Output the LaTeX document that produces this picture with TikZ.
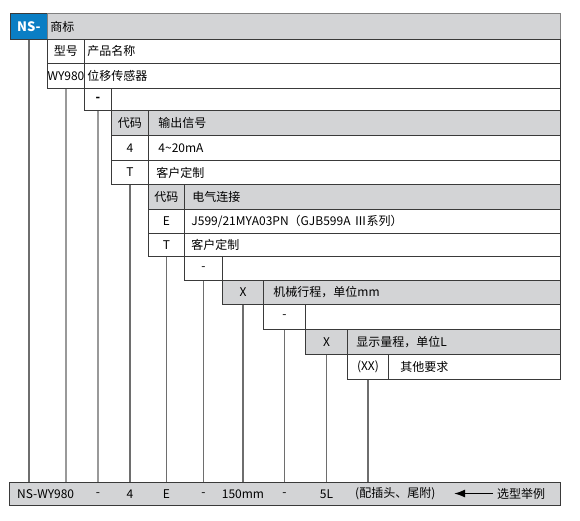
\documentclass[tikz,border=0pt]{standalone}
\usepackage{fontspec}
\setmainfont{Noto Sans CJK SC}
\usetikzlibrary{arrows.meta}
\definecolor{nsblue}{HTML}{0A7EC4}
\definecolor{rowgray}{HTML}{D3D4D6}
\definecolor{rule}{HTML}{3A3A3A}
\definecolor{stem}{HTML}{6E6E6E}
\def\rightedge{560}

\begin{document}
\begin{tikzpicture}[x=1pt, y=-1pt,
  font=\fontsize{12}{14}\selectfont,
  box/.style={draw=rule, line width=0.9pt, anchor=north west, inner xsep=0pt, inner ysep=0pt},
  head/.style={fill=rowgray},
  wide/.style 2 args={text width=\rightedge pt-#1pt-2*#2pt, inner xsep=#2pt, align=left},
  stemline/.style={draw=stem, line width=1.3pt},
  tag/.style={inner sep=0pt},
  pointer/.style={-{Latex[length=11pt,width=8pt]}, line width=1.6pt}]
\useasboundingbox (0,0) rectangle (580,520);

% brand and model
\node[box, fill=nsblue, text=white, font=\fontsize{13}{14}\selectfont\bfseries, minimum width=37, minimum height=26] (ns) at (10,13) {NS-};
\node[box, head, draw=black!50, wide={47}{3}, minimum height=26] (brand) at (47,13) {商标};
\node[box, minimum width=37, minimum height=24] (mcode) at (47,39) {型号};
\node[box, wide={84}{3}, minimum height=24] (mname) at (84,39) {产品名称};
\node[box, minimum width=37, minimum height=25] (model) at (47,63) {WY980};
\node[box, wide={84}{3}, minimum height=25] (modeln) at (84,63) {位移传感器};
\node[box, font=\fontsize{12}{14}\selectfont\bfseries, minimum width=27, minimum height=22] (dashA) at (84,88) {-};
\node[box, minimum width=449, minimum height=22] (dashAr) at (111,88) {};

% output signal
\node[box, head, minimum width=37, minimum height=25] (ocode) at (111,110) {代码};
\node[box, head, wide={148}{10}, minimum height=25] (oname) at (148,110) {输出信号};
\node[box, minimum width=37, minimum height=25] (o4) at (111,135) {4};
\node[box, wide={148}{10}, minimum height=25] (o4t) at (148,135) {4\textasciitilde{}20mA};
\node[box, minimum width=37, minimum height=24] (oT) at (111,160) {T};
\node[box, wide={148}{8}, minimum height=24] (oTt) at (148,160) {客户定制};

% electrical connection
\node[box, head, minimum width=36, minimum height=25] (ecode) at (148,184) {代码};
\node[box, head, wide={184}{8}, minimum height=25] (ename) at (184,184) {电气连接};
\node[box, minimum width=36, minimum height=24] (eE) at (148,209) {E};
\node[box, wide={184}{7}, minimum height=24] (eEt) at (184,209) {J599/21MYA03PN（GJB599A Ⅲ系列）};
\node[box, minimum width=36, minimum height=23] (eT) at (148,233) {T};
\node[box, wide={184}{7}, minimum height=23] (eTt) at (184,233) {客户定制};
\node[box, minimum width=38, minimum height=24] (dashB) at (184,256) {-};
\node[box, minimum width=338, minimum height=24] (dashBr) at (222,256) {};

% stroke and range
\node[box, head, minimum width=41, minimum height=24] (mX) at (222,280) {X};
\node[box, head, wide={263}{10}, minimum height=24] (mXt) at (263,280) {机械行程，单位mm};
\node[box, minimum width=42, minimum height=25] (dashC) at (263,304) {-};
\node[box, minimum width=255, minimum height=25] (dashCr) at (305,304) {};
\node[box, head, minimum width=42, minimum height=25] (dX) at (305,329) {X};
\node[box, head, wide={347}{9}, minimum height=25] (dXt) at (347,329) {显示量程，单位L};
\node[box, minimum width=41, minimum height=25] (xx) at (347,354) {(XX)};
\node[box, wide={388}{12}, minimum height=25] (xxt) at (388,354) {其他要求};

% example bar
\node[box, head, line width=1.2pt, minimum width=551, minimum height=23] (bar) at (9,482) {};
\foreach \n in {ns,oT,eT,dashB,mX,dashC,dX,xx}
  \draw[stemline] (\n.south) -- (\n.south |- bar.north);
\foreach \n in {model,dashA}
  \draw[stemline, draw=black!40] (\n.south) -- (\n.south |- bar.north);

\node[tag, anchor=west] (bns) at ([xshift=8pt]bar.west) {NS-WY980};
\node[tag] (bdashA) at (dashA.south |- bar.center) {-};
\node[tag] (bout) at (oT.south |- bar.center) {4};
\node[tag] (bconn) at (eT.south |- bar.center) {E};
\node[tag] (bdashB) at (dashB.south |- bar.center) {-};
\node[tag] (bstroke) at (mX.south |- bar.center) {150mm};
\node[tag] (bdashC) at (dashC.south |- bar.center) {-};
\node[tag] (brange) at (dX.south |- bar.center) {5L};
\node[tag, anchor=west] (bplug) at (355,493.5) {(配插头、尾附)};
\node[tag, anchor=west] (bsel) at (497,493.5) {选型举例};
\draw[pointer] ([xshift=-4pt]bsel.west) -- ([xshift=-43pt]bsel.west);
\end{tikzpicture}
\end{document}
